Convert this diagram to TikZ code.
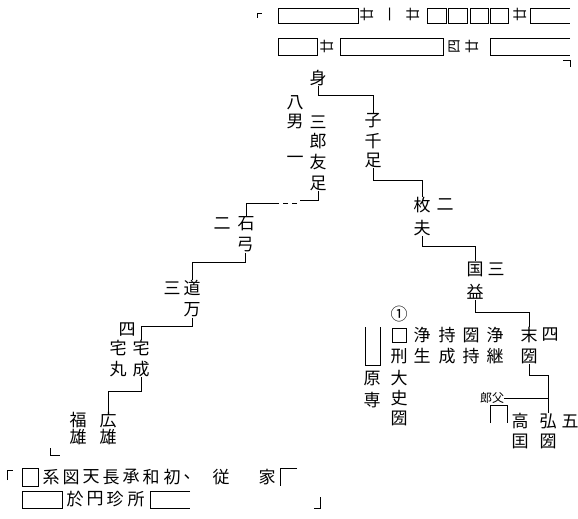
\documentclass[tikz,border=0pt]{standalone}
\usepackage{fontspec}
\newfontfamily\cjk{Noto Sans CJK JP}
\begin{document}
\begin{tikzpicture}[x=1pt,y=-1pt,line width=0.8pt,
  ch/.style={inner sep=0pt,font=\cjk\fontsize{17}{17}\selectfont},
  sm/.style={inner sep=0pt,font=\cjk\fontsize{12}{12}\selectfont},
  tp/.style={inner sep=0pt,font=\cjk\fontsize{14}{14}\selectfont,rotate=90},
  lac/.style={line width=0.7pt}]
\useasboundingbox (0,0) rectangle (578,519);
% ---------- top header ----------
\draw[lac] (257,18) -- (257,13) -- (262,13);
\draw[lac] (278,8) rectangle (358,23);
\node[tp] (t1) at (367,15) {廿};
\node[tp] (t2) at (392,15) {一};
\node[tp] (t3) at (413,15) {廿};
\draw[lac] (427,8) rectangle (446,23);
\draw[lac] (448,8) rectangle (467,23);
\draw[lac] (470,8) rectangle (488,23);
\draw[lac] (490,8) rectangle (508,23);
\node[tp] (t4) at (520,15) {廿};
\draw[lac] (570,8) -- (530,8) -- (530,23) -- (570,23);
\draw[lac] (278,38) rectangle (317,55);
\node[tp] (t5) at (327,46) {廿};
\draw[lac] (340,38) rectangle (443,55);
\node[tp] (t6) at (455,46) {四};
\node[tp] (t7) at (472,46) {廿};
\draw[lac] (570,38) -- (490,38) -- (490,55) -- (570,55);
\draw[lac] (563,60) -- (570,60) -- (570,67);
% ---------- tree ----------
\node[ch] (mi) at (318,78) {身};
\node[ch] (hachi) at (295,103) {八};
\node[ch] (nan) at (295,121) {男};
\node[ch] (ichi) at (295,160) {一};
\node[ch] (sanA) at (318,122) {三};
\node[ch] (ro) at (318,141) {郎};
\node[ch] (yu) at (318,162) {友};
\node[ch] (ashiA) at (318,183) {足};
\node[ch] (ko) at (373,121) {子};
\node[ch] (sen) at (373,141) {千};
\node[ch] (ashiB) at (373,160) {足};
\node[ch] (mai) at (422,205) {枚};
\node[ch] (niA) at (445,205) {二};
\node[ch] (fu) at (422,228) {夫};
\node[ch] (kuni) at (475,269) {国};
\node[ch] (sanB) at (496,269) {三};
\node[ch] (eki) at (475,292) {益};
\node[ch] (sue) at (529,335) {末};
\node[ch] (shiA) at (550,335) {四};
\node[ch] (kokuA) at (529,356) {圀};
\node[ch] (jo) at (495,335) {浄};
\node[ch] (kei) at (495,356) {継};
\node[ch] (kokuB) at (471,335) {圀};
\node[ch] (jiA) at (471,356) {持};
\node[ch] (jiB) at (447,335) {持};
\node[ch] (sei) at (447,356) {成};
\node[ch] (joB) at (422,335) {浄};
\node[ch] (sho) at (422,356) {生};
\node[ch] (maru1) at (399,314) {①};
\draw[lac] (392,328) rectangle (406,342);
\node[ch] (kei2) at (399,356) {刑};
\node[ch] (dai) at (399,378) {大};
\node[ch] (shi) at (399,398) {史};
\node[ch] (kokuC) at (399,418) {圀};
\draw (365,327) -- (365,365) -- (380,365) -- (380,327);
\node[ch] (gen) at (372,379) {原};
\node[ch] (sen2) at (372,400) {専};
\node[sm] (roufu) at (492,398) {郎父};
\node[ch] (ko2) at (520,421) {高};
\node[ch] (hiro) at (548,421) {弘};
\node[ch] (go) at (570,421) {五};
\node[ch] (kuniC) at (520,441) {囯};
\node[ch] (kokuD) at (548,441) {圀};
\draw (490,423) -- (490,405) -- (507,405) -- (507,423);
% left branch
\node[ch] (niB) at (222,224) {二};
\node[ch] (ishi) at (246,224) {石};
\node[ch] (yumi) at (245,245) {弓};
\node[ch] (sanC) at (172,288) {三};
\node[ch] (michi) at (192,288) {道};
\node[ch] (man) at (192,310) {万};
\node[ch] (shiB) at (127,330) {四};
\node[ch] (takuA) at (118,348) {宅};
\node[ch] (maru) at (118,369) {丸};
\node[ch] (takuB) at (141,348) {宅};
\node[ch] (nari) at (141,369) {成};
\node[ch] (fuku) at (78,420) {福};
\node[ch] (yuA) at (78,437) {雄};
\node[ch] (hiroB) at (108,420) {広};
\node[ch] (yuB) at (108,437) {雄};
\draw (50,448) -- (50,455) -- (60,455);
% ---------- connectors ----------
\draw (mi.south) -- ++(0,9) -| (ko.north);
\draw (ashiB.south) -- ++(0,13) -| (mai.north);
\draw (fu.south) -- ++(0,10) -| (kuni.north);
\draw (eki.south) -- ++(0,12) -| (sue.north);
\draw (kokuA.south) -- ++(0,12) -| (hiro.north);
\draw (roufu.east) -- (roufu.east -| hiro.north);
\draw (ashiA.south) -- ++(0,10) coordinate (a1) -- (a1 -| 300,0);
\draw (297,203) -- (292,203) (288,203) -- (283,203);
\draw (279,203) -| (ishi.north);
\draw (yumi.south) -- ++(0,10) -| (michi.north);
\draw (man.south) -- ++(0,9) -| (takuB.north);
\draw (nari.south) -- ++(0,14) -| (hiroB.north);
% ---------- bottom lines ----------
\draw[lac] (7,480) -- (7,470) -- (13,470);
\draw[lac] (22,468) rectangle (38,486);
\node[ch] (b1) at (51,477) {系};
\node[ch] (b2) at (71,477) {図};
\node[ch] (b3) at (91,477) {天};
\node[ch] (b4) at (111,477) {長};
\node[ch] (b5) at (131,477) {承};
\node[ch] (b6) at (151,477) {和};
\node[ch] (b7) at (172,477) {初};
\node[ch] (b8) at (192,477) {、};
\node[ch] (b9) at (221,477) {従};
\node[ch] (b10) at (267,477) {家};
\draw[lac] (297,468) -- (280,468) -- (280,486);
\draw[lac] (22,491) rectangle (62,508);
\node[ch] (c1) at (75,499) {於};
\node[ch] (c2) at (95,499) {円};
\node[ch] (c3) at (115,499) {珍};
\node[ch] (c4) at (136,499) {所};
\draw[lac] (190,491) -- (150,491) -- (150,508) -- (190,508);
\draw[lac] (320,497) -- (320,508) -- (314,508);
\end{tikzpicture}
\end{document}
